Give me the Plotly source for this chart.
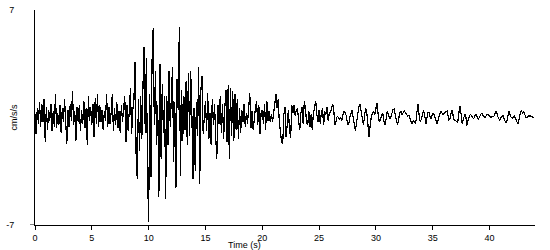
import plotly.graph_objects as go

DT = 0.1  # sample interval, seconds

accel = [
    # 0-1 s
    0.2, -1.1, 0.6, -0.4, 1.0, -0.6, 0.9, -0.3, 1.2, -1.6,
    0.7, -0.8, 0.5, -0.2, 0.9, -0.9, 0.4, -0.6, 1.5, -0.7,
    0.3, -0.5, 0.8, -1.0, 0.6, -0.3, 1.2, -0.4, -1.7, 0.5,
    -0.6, 0.9, -0.2, 1.7, -0.5, 0.4, -1.5, 0.7, -0.3, 0.8,
    -0.9, 0.5, -0.4, 1.1, -0.7, 0.6, -1.8, 1.4, -0.2, 0.7,
    # 5 s
    -0.5, 0.9, -1.3, 1.3, -0.4, 1.5, -0.6, 0.8, -0.3, 0.5,
    -0.8, 0.4, -0.2, 1.5, -0.6, 0.7, -0.4, 0.3, 1.5, -0.9,
    0.6, -0.5, 1.0, -0.7, 0.4, -1.0, 0.8, -0.3, 0.9, 1.4,
    -1.6, 0.8, -0.9, 1.2, 1.9, -1.1, 0.5, 1.0, 3.6, -2.5,
    -4.0, 1.2, -2.2, 1.4, -1.4, 2.0, 4.6, -1.0, 3.9, -3.5,
    # 10 s
    -6.8, 1.5, -3.9, 3.7, 5.8, -0.5, 3.0, -1.8, 0.8, -5.2,
    3.5, -2.7, 2.2, -1.0, 1.4, -5.3, 1.4, -1.8, 3.0, -0.6,
    1.2, 3.3, -2.9, 1.0, -4.6, 2.5, 0.5, 5.9, -3.8, 1.8,
    -1.5, 1.4, -0.8, 2.4, -1.8, 2.9, -1.2, 3.0, 0.5, -4.0,
    0.6, -3.5, 1.0, -1.2, 3.3, -4.3, 1.8, 2.7, -1.1, 0.4,
    # 15 s
    1.1, -0.9, 1.6, -1.4, 0.3, -1.8, 1.2, -0.5, 0.9, -1.2,
    -2.7, 0.8, -0.4, 1.4, -1.0, 0.9, -1.4, 0.6, 1.8, -1.6,
    2.1, -2.7, 1.9, -1.2, 1.7, -1.5, 1.5, -0.8, 1.2, -1.4,
    0.6, -1.0, 0.5, -0.3, 0.9, -0.6, 0.3, -0.4, 1.0, 1.6,
    -0.7, 0.4, -0.8, 0.2, 0.6, 1.1, -0.5, 0.8, -1.1, 0.3,
    # 20 s
    0.5, -0.4, 0.9, -0.8, 1.1, -0.2, 0.4, -0.3, 0.2, -0.3,
    0.3, 0.8, 1.5, 0.6, 1.2, -0.3, -1.0, -1.6, -1.7, 0.2,
    0.7, -1.3, -0.4, 0.5, -0.9, -1.3, 0.8, 0.3, 0.8, 0.1,
    0.5, 0.6, -0.2, -0.8, 0.3, 0.7, -0.4, 1.1, 0.6, -0.3,
    -0.5, 0.4, -0.6, 0.2, -0.8, 0.3, 0.6, 1.1, 0.2, -0.3,
    # 25 s
    0.5, -0.4, 0.3, 0.6, -0.5, 0.4, 0.2, 0.7, -0.2, 0.3,
    0.3, 0.6, 0.9, 0.4, -0.5, -0.2, 0.1, 0.0, -0.1, 0.0,
    -0.2, 0.2, 0.4, 0.3, 0.1, -0.4, -0.5, 0.0, 0.3, 0.5,
    0.0, -0.5, -0.85, -0.3, 0.4, 0.7, 0.85, 0.3, -0.2, -0.5,
    0.1, 0.64, 0.3, -0.5, -1.27, -0.5, 0.1, 0.3, 0.4, 0.2,
    # 30 s
    0.5, 0.96, 0.2, -0.3, -0.1, 0.2, 0.3, -0.2, -0.5, -0.1,
    0.4, 0.2, -0.1, 0.0, 0.3, 0.5, 0.55, 0.2, -0.3, -0.5,
    -0.1, 0.3, 0.4, 0.2, 0.3, 0.45, 0.3, 0.2, 0.1, 0.15,
    -0.1, -0.3, -0.4, -0.2, -0.3, -0.4, 0.3, 0.85, 0.2, -0.3,
    -0.1, 0.3, 0.45, 0.1, -0.4, 0.0, 0.35, 0.3, -0.1, 0.0,
    # 35 s
    0.3, 0.2, 0.0, -0.3, -0.42, -0.1, 0.2, 0.42, 0.3, 0.2,
    0.25, 0.35, 0.4, 0.42, -0.2, -0.1, 0.3, 0.5, 0.1, -0.2,
    -0.2, -0.25, -0.3, 0.3, 0.74, 0.2, -0.42, -0.1, 0.15, 0.2,
    -0.53, -0.2, 0.1, 0.2, 0.15, 0.0, -0.1, 0.1, 0.2, 0.05,
    -0.1, 0.0, 0.2, 0.3, 0.15, 0.05, 0.0, 0.1, 0.2, 0.2,
    # 40 s
    0.1, 0.0, 0.05, 0.1, 0.1, 0.3, 0.42, 0.1, -0.1, -0.2,
    0.0, 0.1, 0.1, -0.1, -0.3, -0.3, 0.1, 0.42, 0.2, 0.0,
    -0.05, 0.05, 0.1, -0.1, -0.3, -0.42, -0.1, 0.3, 0.42, 0.3,
    0.4, 0.2, 0.0, 0.0, 0.1, 0.1, 0.1, 0.05, 0.0, 0.0,
]

time_s = [i * DT for i in range(len(accel))]

x_ticks = [0, 5, 10, 15, 20, 25, 30, 35, 40]
y_ticks = [-7, 7]

FONT = "Liberation Sans"

fig = go.Figure()
fig.add_trace(go.Scatter(
    x=time_s, y=accel, mode="lines",
    line=dict(color="black", width=1.2),
    hoverinfo="skip", showlegend=False,
))

fig.update_layout(
    width=550, height=250,
    margin=dict(l=35, r=15, t=5, b=25),
    paper_bgcolor="white", plot_bgcolor="white",
    font=dict(family=FONT, size=9, color="black"),
    xaxis=dict(
        range=[0, 44], tickvals=x_ticks, ticktext=[str(v) for v in x_ticks],
        showgrid=False, zeroline=False, showline=True, linecolor="black",
        linewidth=1, ticks="outside", ticklen=4, tickcolor="black",
        tickfont=dict(family=FONT, size=9),
    ),
    yaxis=dict(
        range=[-7, 7], tickvals=y_ticks, ticktext=["-7", "7"],
        showgrid=False, zeroline=False, showline=True, linecolor="black",
        linewidth=1, ticks="", ticklabelstandoff=18,
        tickfont=dict(family=FONT, size=9),
    ),
    annotations=[
        dict(text="cm/s/s", textangle=-90, xref="paper", yref="paper",
             x=-0.044, y=0.5, xanchor="center", yanchor="middle",
             showarrow=False, font=dict(family=FONT, size=9)),
        dict(text="Time (s)", xref="paper", yref="paper",
             x=0.418, y=-0.095, xanchor="center", yanchor="middle",
             showarrow=False, font=dict(family=FONT, size=9)),
    ],
    shapes=[
        dict(type="line", xref="paper", yref="y", x0=-0.01, x1=0,
             y0=-7, y1=-7, line=dict(color="black", width=1)),
    ],
)

fig.write_html(
    "out.html",
    post_script="document.querySelectorAll('.scatterlayer path.js-line')"
                ".forEach(function(p){p.style.shapeRendering='crispEdges';});",
)
